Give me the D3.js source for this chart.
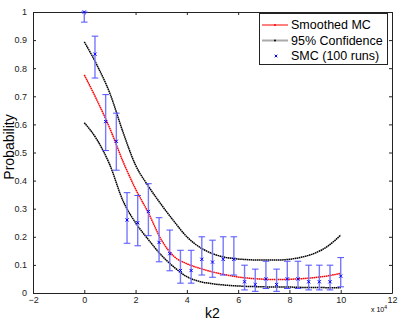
<!DOCTYPE html>
<html>
<head>
	<meta charset="utf-8">
	<title>Smoothed MC</title>
	<script type="text/javascript" src="https://cdn.jsdelivr.net/npm/d3@7"></script>
	<style>
		body {
			font-family: "Liberation Sans", Arial, Helvetica, sans-serif;
			margin: 0;
			background: #fff;
		}
	</style>
</head>

<body>

	<div id="chart"></div>

	<script>

	// customization

	const xTicks = [-2, 0, 2, 4, 6, 8, 10, 12];
	const yTicks = [0, 0.1, 0.2, 0.3, 0.4, 0.5, 0.6, 0.7, 0.8, 0.9, 1];

	// curves, k2 in units of 10^4
	const curveK  = [0, 0.5, 1, 1.5, 2, 2.5, 3, 3.5, 4, 4.5, 5, 5.5, 6, 6.5, 7, 7.5, 8, 8.5, 9, 9.5, 10];
	const smoothed = [0.776, 0.685, 0.585, 0.47, 0.37, 0.285, 0.19, 0.13, 0.104, 0.088, 0.075, 0.065, 0.057, 0.052, 0.049, 0.048, 0.049, 0.051, 0.055, 0.061, 0.07];
	const upper    = [0.894, 0.81, 0.71, 0.575, 0.455, 0.38, 0.315, 0.255, 0.2, 0.163, 0.14, 0.127, 0.121, 0.118, 0.117, 0.117, 0.12, 0.128, 0.142, 0.167, 0.206];
	const lower    = [0.606, 0.545, 0.455, 0.33, 0.25, 0.19, 0.135, 0.092, 0.058, 0.041, 0.033, 0.028, 0.025, 0.023, 0.022, 0.021, 0.021, 0.02, 0.02, 0.019, 0.019];

	// SMC (100 runs)
	const smcK = [0, 0.417, 0.833, 1.25, 1.667, 2.083, 2.5, 2.917, 3.333, 3.75, 4.167, 4.583, 5, 5.417, 5.833, 6.25, 6.667, 7.083, 7.5, 7.917, 8.333, 8.75, 9.167, 9.583, 10];
	const smcP = [1.0, 0.85, 0.61, 0.54, 0.26, 0.25, 0.29, 0.18, 0.14, 0.08, 0.08, 0.12, 0.11, 0.12, 0.12, 0.04, 0.03, 0.05, 0.03, 0.05, 0.05, 0.04, 0.04, 0.04, 0.06];
	const smcLo = [0.964, 0.765, 0.507, 0.437, 0.177, 0.168, 0.204, 0.111, 0.079, 0.035, 0.035, 0.064, 0.056, 0.064, 0.064, 0.011, 0.006, 0.016, 0.006, 0.016, 0.016, 0.011, 0.011, 0.011, 0.022];
	const smcHi = [1.0, 0.914, 0.706, 0.64, 0.357, 0.347, 0.389, 0.268, 0.224, 0.152, 0.152, 0.2, 0.188, 0.2, 0.2, 0.099, 0.085, 0.113, 0.085, 0.113, 0.113, 0.099, 0.099, 0.099, 0.126];

	const legendLabels = ["Smoothed MC", "95% Confidence", "SMC (100 runs)"];

	const width  = 399;
	const height = 321;
	const axisColor = "#222";

	// customization

	function chart(container) {
		const marginLeft = 33, marginRight = 7, marginTop = 12, marginBottom = 28;
		const x = d3.scaleLinear([-2, 12], [marginLeft, width - marginRight]);
		const y = d3.scaleLinear([0, 1], [height - marginBottom, marginTop]);

		const svg = d3.select(container)
			.append("svg")
			.attr("width", width)
			.attr("height", height)
			.attr("viewBox", [0, 0, width, height])
			.style("display", "block");

		// axes, matlab style: ticks inside, box on
		const tickFmt = d => d3.format("")(+d.toFixed(1));
		svg.append("g")
			.attr("transform", `translate(0,${y(0)})`)
			.call(d3.axisBottom(x).tickValues(xTicks).tickSize(-3).tickPadding(4).tickSizeOuter(0))
			.call(g => g.select(".domain").attr("stroke", axisColor))
			.call(g => g.selectAll(".tick line").attr("stroke", axisColor))
			.call(g => g.selectAll("text").style("font-size", "9px").attr("fill", "#222"));
		svg.append("g")
			.attr("transform", `translate(0,${y(1)})`)
			.call(d3.axisTop(x).tickValues(xTicks).tickSize(-3).tickFormat("").tickSizeOuter(0))
			.call(g => g.select(".domain").attr("stroke", axisColor))
			.call(g => g.selectAll(".tick line").attr("stroke", axisColor));
		svg.append("g")
			.attr("transform", `translate(${x(-2)},0)`)
			.call(d3.axisLeft(y).tickValues(yTicks).tickSize(-3).tickPadding(6).tickFormat(tickFmt).tickSizeOuter(0))
			.call(g => g.select(".domain").attr("stroke", axisColor))
			.call(g => g.selectAll(".tick line").attr("stroke", axisColor))
			.call(g => g.selectAll("text").style("font-size", "9px").attr("fill", "#222"));
		svg.append("g")
			.attr("transform", `translate(${x(12)},0)`)
			.call(d3.axisRight(y).tickValues(yTicks).tickSize(-3).tickFormat("").tickSizeOuter(0))
			.call(g => g.select(".domain").attr("stroke", axisColor))
			.call(g => g.selectAll(".tick line").attr("stroke", axisColor));
		svg.selectAll(".domain").attr("stroke-width", 1);

		// labels
		svg.append("text")
			.attr("x", (x(-2) + x(12)) / 2)
			.attr("y", 318)
			.attr("text-anchor", "middle")
			.style("font-size", "14px")
			.text("k2");
		svg.append("text")
			.attr("transform", "translate(14,147) rotate(-90)")
			.attr("text-anchor", "middle")
			.style("font-size", "14px")
			.text("Probability");
		const exp = svg.append("text")
			.attr("x", 371)
			.attr("y", 312)
			.style("font-size", "7px");
		exp.append("tspan").text("x 10");
		exp.append("tspan").attr("dy", -3).style("font-size", "5px").text("4");

		// curves
		const line = d3.line().x(d => x(d[0])).y(d => y(d[1])).curve(d3.curveMonotoneX);
		const series = [
			{ v: upper, color: "#000" },
			{ v: lower, color: "#000" },
			{ v: smoothed, color: "#f00" },
		];
		series.forEach(s => {
			svg.append("path")
				.attr("fill", "none")
				.attr("stroke", s.color)
				.attr("stroke-width", 1.5)
				.attr("stroke-dasharray", "1.6 0.5")
				.attr("d", line(d3.zip(curveK, s.v)));
		});

		// error bars
		const bars = svg.append("g");
		smcK.forEach((k, i) => {
			const g = bars.append("g");
			g.append("line")
				.attr("x1", x(k)).attr("x2", x(k))
				.attr("y1", y(smcLo[i])).attr("y2", y(smcHi[i]))
				.attr("stroke", "#7878ff").attr("stroke-width", 1.4);
			[smcLo[i], smcHi[i]].forEach(v => {
				g.append("line")
					.attr("x1", x(k) - 3.3).attr("x2", x(k) + 3.3)
					.attr("y1", y(v)).attr("y2", y(v))
					.attr("stroke", "#5050ff").attr("stroke-width", 1);
			});
			const cx = x(k), cy = y(smcP[i]), r = 1.6;
			g.append("path")
				.attr("d", `M${cx - r},${cy - r}L${cx + r},${cy + r}M${cx - r},${cy + r}L${cx + r},${cy - r}`)
				.attr("stroke", "#0000ff").attr("stroke-width", 1);
		});

		// legend
		const lg = svg.append("g");
		lg.append("rect")
			.attr("x", 259.5).attr("y", 13.5)
			.attr("width", 128).attr("height", 51)
			.attr("fill", "#fff").attr("stroke", axisColor).attr("stroke-width", 1);
		const rows = [25, 40.5, 56];
		lg.append("line").attr("x1", 262).attr("x2", 288).attr("y1", rows[0]).attr("y2", rows[0])
			.attr("stroke", "#f00").attr("stroke-width", 1);
		lg.append("circle").attr("cx", 275).attr("cy", rows[0]).attr("r", 1).attr("fill", "#f00");
		lg.append("line").attr("x1", 262).attr("x2", 288).attr("y1", rows[1]).attr("y2", rows[1])
			.attr("stroke", "#aaa").attr("stroke-width", 2);
		lg.append("circle").attr("cx", 275).attr("cy", rows[1]).attr("r", 1).attr("fill", "#000");
		const mx = 276, my = rows[2], mr = 1.3;
		lg.append("path")
			.attr("d", `M${mx - mr},${my - mr}L${mx + mr},${my + mr}M${mx - mr},${my + mr}L${mx + mr},${my - mr}`)
			.attr("stroke", "#0000ff").attr("stroke-width", 1);
		legendLabels.forEach((t, i) => {
			lg.append("text")
				.attr("x", 291)
				.attr("y", rows[i] + 4.3)
				.style("font-size", "12.5px")
				.text(t);
		});

		return svg.node();
	}

	chart("#chart");

	</script>

</body>

</html>
